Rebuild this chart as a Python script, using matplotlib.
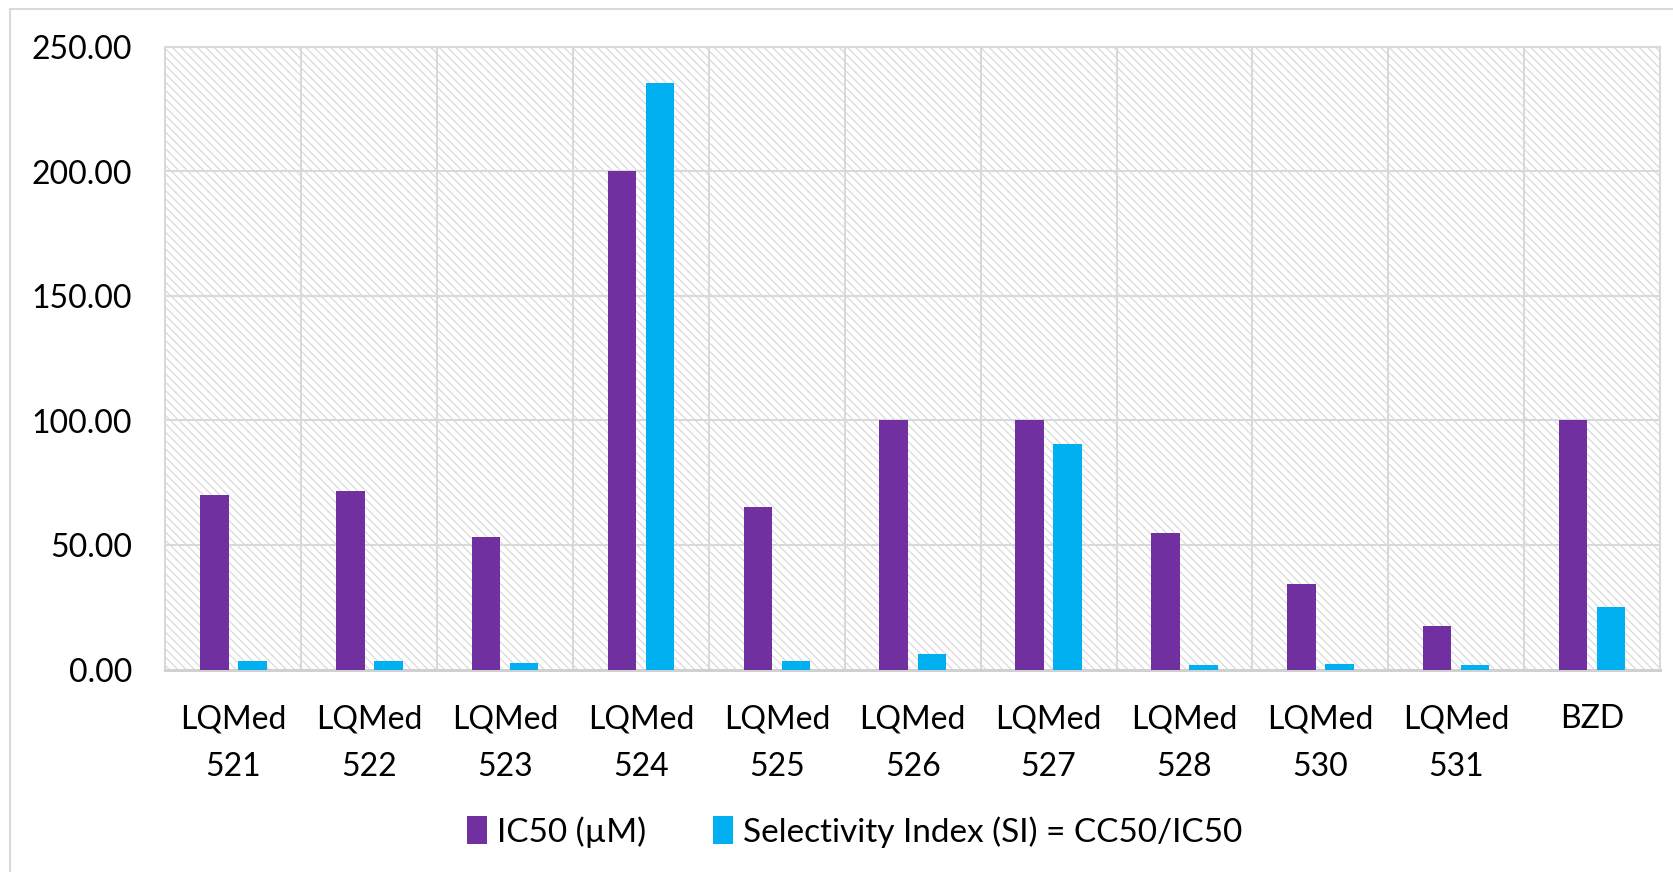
import matplotlib
matplotlib.use("Agg")
import matplotlib.pyplot as plt
import numpy as np
from matplotlib.patches import Rectangle
from matplotlib.lines import Line2D

categories = ["LQMed\n521", "LQMed\n522", "LQMed\n523", "LQMed\n524", "LQMed\n525",
              "LQMed\n526", "LQMed\n527", "LQMed\n528", "LQMed\n530", "LQMed\n531", "BZD"]
ic50 = [70.0, 71.6, 53.2, 200.3, 65.2, 100.3, 100.3, 54.9, 34.5, 17.4, 100.3]
si = [3.3, 3.4, 2.6, 235.4, 3.3, 6.4, 90.5, 1.8, 2.2, 1.8, 25.2]
yticks = [0, 50, 100, 150, 200, 250]
labels = ["IC50 (µM)", "Selectivity Index (SI) = CC50/IC50"]

purple = "#7030A0"
blue = "#00B0F0"
grid = "#d9d9d9"

plt.rcParams['font.family'] = ['Lato', 'DejaVu Sans']

W, H = 1674, 872
fig = plt.figure(figsize=(W / 100, H / 100), dpi=100)
fig.patch.set_facecolor("white")
# outer frame: only left and top edges visible
fig.add_artist(Line2D([9.5 / W, 9.5 / W], [0, 1 - 9.5 / H], transform=fig.transFigure,
                      color="#d9d9d9", linewidth=1.5))
fig.add_artist(Line2D([9.5 / W, 1], [1 - 9.5 / H, 1 - 9.5 / H], transform=fig.transFigure,
                      color="#d9d9d9", linewidth=1.5))

ax = fig.add_axes([165.5 / W, 1 - 669.5 / H, (1660 - 165.5) / W, (669.5 - 47) / H])
ax.set_facecolor("white")
plt.rcParams['hatch.linewidth'] = 0.9
bg = Rectangle((0, 0), 1, 1, transform=ax.transAxes, facecolor="white", hatch="\\\\\\\\",
               edgecolor="#dadada", linewidth=0, zorder=0)
ax.add_patch(bg)

x = np.arange(len(categories))
off = 0.14
w = 0.21
ax.bar(x - off, ic50, width=w, color=purple, label=labels[0], zorder=3)
ax.bar(x + off, si, width=w, color=blue, label=labels[1], zorder=3)

ax.set_xlim(-0.5, len(categories) - 0.5)
ax.set_ylim(0, 250)
ax.set_yticks(yticks)
ax.set_yticklabels([f"{v:.2f}" for v in yticks], fontsize=23)
ax.set_xticks(x)
ax.set_xticklabels(categories, fontsize=23, linespacing=1.75)
ax.tick_params(axis='both', length=0)
ax.tick_params(axis='y', pad=24)
ax.tick_params(axis='x', pad=25)

for yv in yticks[1:]:
    ax.axhline(yv, color=grid, linewidth=1.5, zorder=1)
for b in np.arange(0.5, len(categories) - 0.5, 1):
    ax.axvline(b, color=grid, linewidth=1.5, zorder=1)
for s in ["top", "right", "left"]:
    ax.spines[s].set_color(grid)
    ax.spines[s].set_linewidth(1.5)
ax.spines["bottom"].set_color("#d0d0d0")
ax.spines["bottom"].set_linewidth(2.2)

leg = fig.legend(loc="center", bbox_to_anchor=(855 / W, 1 - 832 / H), ncol=2, frameon=False,
                 fontsize=24, handlelength=0.6, handleheight=0.9, handletextpad=0.3,
                 columnspacing=2.0)

fig.savefig("out.png", dpi=100, facecolor="white")
